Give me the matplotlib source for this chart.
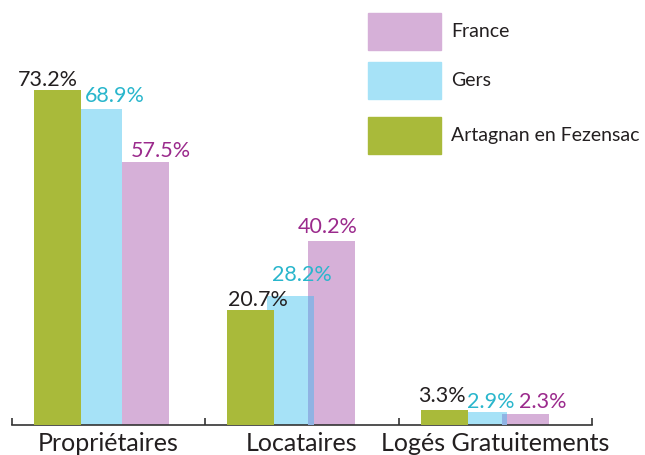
import matplotlib
matplotlib.use("Agg")
import matplotlib.pyplot as plt
from matplotlib.patches import Rectangle
import numpy as np

plt.rcParams['font.family'] = ['Lato', 'DejaVu Sans']

categories = ["Propriétaires", "Locataires", "Logés Gratuitements"]
series_names = ["France", "Gers", "Artagnan en Fezensac"]
# printed values
france = [57.5, 40.2, 2.3]
gers = [68.9, 28.2, 2.9]
artagnan = [73.2, 20.7, 3.3]
# bar heights as drawn in the picture (the Locataires green bar is drawn taller than its label)
artagnan_drawn = [73.2, 25.1, 3.3]

# styles
c_green, c_blue, c_pink = "#a9ba3a", "#a6e2f7", "#d6b0d8"
c_strip = "#8fb3e3"
t_green, t_blue, t_pink = "#231f20", "#29b6cc", "#9b2a8c"
W, H = 645, 455
fig = plt.figure(figsize=(W / 100, H / 100), dpi=100)
ax = fig.add_axes([12 / W, 30 / H, 580 / W, 425 / H])

x = np.arange(len(categories))
bw = 0.243
off_g = np.array([-0.264, -0.264, -0.264])
off_b = np.array([-0.052, -0.062, -0.062])
off_p = np.array([0.191, 0.155, 0.155])

ax.bar(x + off_p, france, bw, color=c_pink, zorder=1)
ax.bar(x + off_b, gers, bw, color=c_blue, zorder=2)
# overlap strip between Gers and France bars
ov_left = off_p - bw / 2
ov_right = off_b + bw / 2
ov_w = np.maximum(ov_right - ov_left, 0)
ax.bar(x + (ov_left + ov_right) / 2, np.minimum(gers, france), ov_w,
       color=c_strip, zorder=3, linewidth=0)
ax.bar(x + off_g, artagnan_drawn, bw, color=c_green, zorder=4)

# value labels (offsets in pixels)
dx = {"g": [-10, 6.5, -2], "b": [16.5, 11.5, 7], "p": [15.5, -4, 17.5]}
dy = {"g": [4, 4, 8], "b": [7, 15, 4], "p": [5, 8, 6]}
for i in range(len(categories)):
    for key, vals, hts, off, col in (("g", artagnan, artagnan_drawn, off_g, t_green),
                                     ("b", gers, gers, off_b, t_blue),
                                     ("p", france, france, off_p, t_pink)):
        ax.annotate(f"{vals[i]}%", xy=(x[i] + off[i], hts[i]),
                    xytext=(dx[key][i], dy[key][i]), textcoords="offset pixels",
                    ha="center", va="baseline", fontsize=15.5, color=col, zorder=6)

ax.set_xlim(-0.5, 2.5)
ax.set_ylim(0, 425 / 4.58)
for s in ("top", "right", "left"):
    ax.spines[s].set_visible(False)
ax.spines["bottom"].set_color("#333333")
ax.spines["bottom"].set_linewidth(1.2)
ax.set_yticks([])
ax.set_xticks(x)
ax.set_xticklabels(categories, fontsize=18, color="#231f20")
ax.tick_params(axis="x", which="major", length=0, pad=5)
ax.set_xticks([-0.5, 0.5, 1.5, 2.5], minor=True)
ax.tick_params(axis="x", which="minor", direction="in", length=5, width=1.2,
               color="#333333")

# legend (manual)
leg_colors = [c_pink, c_blue, c_green]
leg_y = [(13, 50), (62, 99), (117, 154)]
for name, col, (y1, y2) in zip(series_names, leg_colors, leg_y):
    fig.add_artist(Rectangle((368 / W, 1 - y2 / H), 73 / W, (y2 - y1) / H,
                             transform=fig.transFigure, color=col))
    fig.text(451 / W, 1 - (y1 + y2) / 2 / H, name, fontsize=14,
             color="#231f20", va="center", ha="left")

fig.savefig("out.png", dpi=100)
